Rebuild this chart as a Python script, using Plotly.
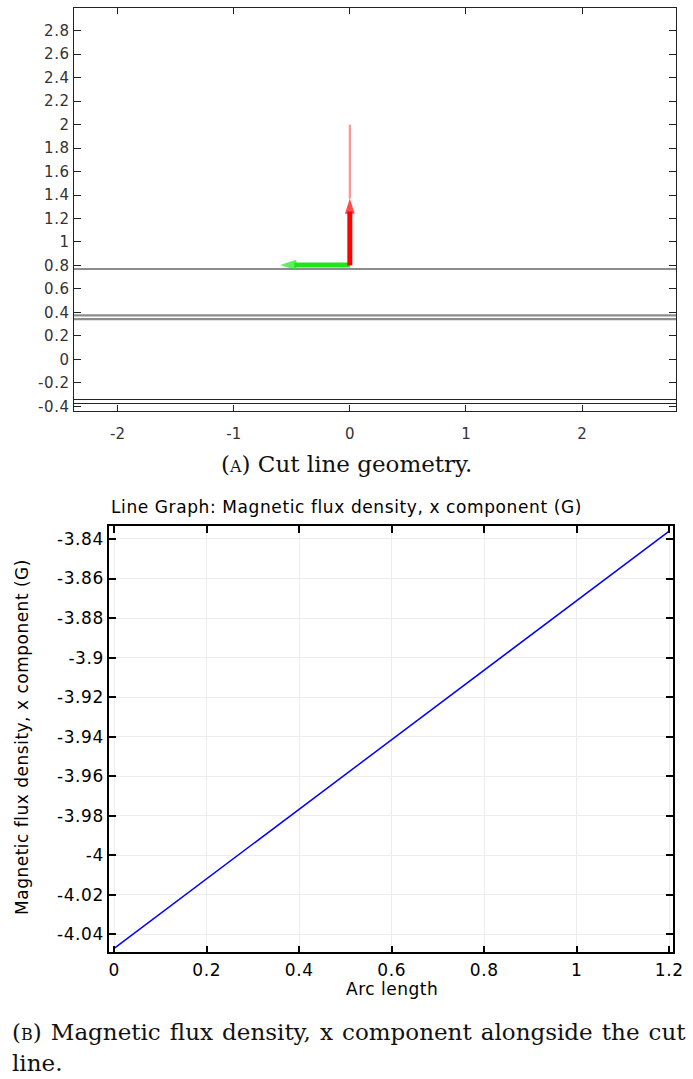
import plotly.graph_objects as go

W, H = 693, 1079

# ---------------- data: panel A (cut line geometry) ----------------
geom_x_extent = [-3.0, 3.0]
gray_levels = [0.77, 0.375, 0.342]
black_levels = [-0.342, -0.376]
red_arrow_x = [0.0, 0.0]
red_arrow_y = [0.80, 1.37]
red_tail_x = [0.0, 0.0]
red_tail_y = [1.37, 2.0]
green_arrow_x = [0.0, -0.60]
green_arrow_y = [0.805, 0.805]

a_xticks = [-2, -1, 0, 1, 2]
a_xtext = ["-2", "-1", "0", "1", "2"]
a_yticks = [-0.4, -0.2, 0, 0.2, 0.4, 0.6, 0.8, 1.0, 1.2, 1.4, 1.6, 1.8, 2.0, 2.2, 2.4, 2.6, 2.8]
a_ytext = ["-0.4", "-0.2", "0", "0.2", "0.4", "0.6", "0.8", "1", "1.2", "1.4", "1.6", "1.8", "2", "2.2", "2.4", "2.6", "2.8"]

# ---------------- data: panel B (line graph) ----------------
arc_length = [0.0, 1.2]
bx_values = [-4.047, -3.836]
b_xticks = [0, 0.2, 0.4, 0.6, 0.8, 1.0, 1.2]
b_xtext = ["0", "0.2", "0.4", "0.6", "0.8", "1", "1.2"]
b_yticks = [-4.04, -4.02, -4.0, -3.98, -3.96, -3.94, -3.92, -3.90, -3.88, -3.86, -3.84]
b_ytext = ["-4.04", "-4.02", "-4", "-3.98", "-3.96", "-3.94", "-3.92", "-3.9", "-3.88", "-3.86", "-3.84"]

def px_x(p):
    return p / W

def px_y(p):
    return 1 - p / H

def spaced(s, ls):
    return "<span style='letter-spacing:%spx'>%s</span>" % (ls, s)

fig = go.Figure()

# geometry lines
for lv in gray_levels:
    fig.add_trace(go.Scatter(x=geom_x_extent, y=[lv, lv], mode="lines",
                             line=dict(color="#8c8c8c", width=2.2),
                             xaxis="x", yaxis="y", showlegend=False, hoverinfo="skip"))
for lv in black_levels:
    fig.add_trace(go.Scatter(x=geom_x_extent, y=[lv, lv], mode="lines",
                             line=dict(color="#222222", width=1.2),
                             xaxis="x", yaxis="y", showlegend=False, hoverinfo="skip"))

# pink tail of the red arrow
fig.add_trace(go.Scatter(x=red_tail_x, y=red_tail_y, mode="lines",
                         line=dict(color="rgba(255,100,100,0.7)", width=2.2),
                         xaxis="x", yaxis="y", showlegend=False, hoverinfo="skip"))

# arrows
fig.add_trace(go.Scatter(x=green_arrow_x, y=green_arrow_y, mode="lines+markers",
                         line=dict(color="#1ee61e", width=5, backoff=14),
                         marker=dict(symbol="arrow", angleref="previous", size=[0, 17],
                                     color="#1ee61e", line=dict(width=0)),
                         xaxis="x", yaxis="y", showlegend=False, hoverinfo="skip"))
fig.add_trace(go.Scatter(x=red_arrow_x, y=red_arrow_y, mode="lines+markers",
                         line=dict(color="#ff0000", width=5, backoff=13),
                         marker=dict(symbol="arrow", angleref="previous", size=[0, 16],
                                     color="#ff0000", line=dict(width=0)),
                         xaxis="x", yaxis="y", showlegend=False, hoverinfo="skip"))

# panel B line
fig.add_trace(go.Scatter(x=arc_length, y=bx_values, mode="lines",
                         line=dict(color="#0000ff", width=1.5),
                         xaxis="x2", yaxis="y2", showlegend=False))

font_sans = "DejaVu Sans"
LS_B = 0.6

fig.update_layout(
    width=W, height=H,
    margin=dict(l=0, r=0, t=0, b=0),
    paper_bgcolor="white", plot_bgcolor="white",
    font=dict(family=font_sans, color="black"),
    xaxis=dict(domain=[px_x(74), px_x(686)], range=[-2.377, 2.81],
               tickvals=a_xticks, ticktext=a_xtext, ticks="inside", ticklen=6,
               tickcolor="#222", tickwidth=1.2, ticklabelstandoff=8,
               showline=True, linecolor="#222", linewidth=1.3, mirror="allticks",
               showgrid=False, zeroline=False,
               tickfont=dict(family=font_sans, size=15, color="#333"), anchor="y"),
    yaxis=dict(domain=[px_y(413), px_y(8)], range=[-0.444, 2.994],
               tickvals=a_yticks, ticktext=[spaced(t, 0.6) for t in a_ytext],
               ticks="inside", ticklen=7,
               tickcolor="#222", tickwidth=1.2,
               showline=True, linecolor="#222", linewidth=1.3, mirror="allticks",
               showgrid=False, zeroline=False,
               tickfont=dict(family=font_sans, size=15, color="#333"), anchor="x"),
    xaxis2=dict(domain=[px_x(110), px_x(683)], range=[-0.0106, 1.2085],
                tickvals=b_xticks, ticktext=[spaced(t, LS_B) for t in b_xtext],
                ticks="inside", ticklen=7, ticklabeloverflow="allow",
                tickcolor="black", tickwidth=1.5, ticklabelstandoff=1,
                showline=True, linecolor="black", linewidth=1.8, mirror="allticks",
                showgrid=True, gridcolor="#ececec", gridwidth=1, zeroline=False,
                tickfont=dict(family=font_sans, size=17, color="black"), anchor="y2"),
    yaxis2=dict(domain=[px_y(956), px_y(527.7)], range=[-4.0491, -3.8333],
                tickvals=b_yticks, ticktext=[spaced(t, LS_B) for t in b_ytext],
                ticks="inside", ticklen=7, ticklabeloverflow="allow",
                tickcolor="black", tickwidth=1.5,
                showline=True, linecolor="black", linewidth=1.8, mirror="allticks",
                showgrid=True, gridcolor="#ececec", gridwidth=1, zeroline=False,
                tickfont=dict(family=font_sans, size=17, color="black"), anchor="x2"),
)

serif = "DejaVu Serif"
annots = [
    dict(text="(<span style='font-size:16px'>A</span>) Cut line geometry.",
         x=px_x(351), y=px_y(466), xanchor="center", yanchor="middle",
         font=dict(family=serif, size=23, color="#111")),
    dict(text=spaced("Line Graph: Magnetic flux density, x component (G)", LS_B),
         x=px_x(351), y=px_y(509), xanchor="center", yanchor="middle",
         font=dict(family=font_sans, size=17, color="black")),
    dict(text=spaced("Magnetic flux density, x component (G)", 0.5), textangle=-90,
         x=px_x(22), y=px_y(740), xanchor="center", yanchor="middle",
         font=dict(family=font_sans, size=17, color="black")),
    dict(text=spaced("Arc length", 0.5),
         x=px_x(397), y=px_y(993), xanchor="center", yanchor="middle",
         font=dict(family=font_sans, size=17, color="black")),
    dict(text="<span style='word-spacing:1.8px'>(<span style='font-size:16px'>B</span>) Magnetic flux density, x component alongside the cut</span>",
         x=px_x(9), y=px_y(1036), xanchor="left", yanchor="middle",
         font=dict(family=serif, size=23, color="#111")),
    dict(text="line.",
         x=px_x(9), y=px_y(1067), xanchor="left", yanchor="middle",
         font=dict(family=serif, size=23, color="#111")),
]
for a in annots:
    a.update(xref="paper", yref="paper", showarrow=False)
fig.update_layout(annotations=annots)

fig.write_html("out.html")
